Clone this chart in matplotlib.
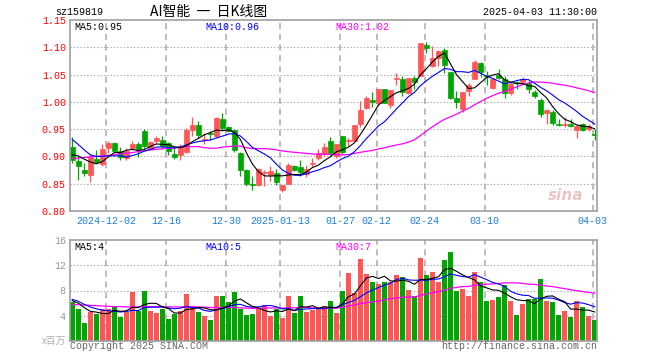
import numpy as np
import pandas as pd
import matplotlib
matplotlib.use('Agg')
import matplotlib.pyplot as plt

# ---- daily candles, 2024-11-22 .. 2025-04-03 (88 trading days) ----
opens = [0.917, 0.891, 0.876, 0.866, 0.896, 0.887, 0.916, 0.924, 0.910, 0.898,
         0.916, 0.922, 0.946, 0.914, 0.928, 0.931, 0.925, 0.905, 0.902, 0.908,
         0.948, 0.957, 0.930, 0.943, 0.938, 0.969, 0.954, 0.949, 0.907, 0.876,
         0.850, 0.847, 0.870, 0.866, 0.869, 0.838, 0.850, 0.882, 0.881, 0.867,
         0.886, 0.897, 0.904, 0.929, 0.900, 0.937, 0.928, 0.929, 0.959, 0.989,
         1.004, 0.997, 1.023, 0.995, 1.041, 1.041, 1.017, 1.044, 1.047, 1.105,
         1.065, 1.081, 1.095, 1.054, 1.007, 0.986, 1.020, 1.042, 1.072, 1.049,
         1.025, 1.050, 1.041, 1.017, 1.036, 1.036, 1.034, 1.018, 1.004, 0.979,
         0.981, 0.960, 0.957, 0.960, 0.949, 0.960, 0.951, 0.941]
highs = [0.936, 0.900, 0.888, 0.905, 0.911, 0.922, 0.929, 0.926, 0.918, 0.916,
         0.929, 0.927, 0.951, 0.929, 0.937, 0.937, 0.927, 0.916, 0.923, 0.952,
         0.972, 0.965, 0.943, 0.947, 0.973, 0.979, 0.956, 0.950, 0.908, 0.877,
         0.864, 0.878, 0.876, 0.883, 0.877, 0.847, 0.888, 0.885, 0.894, 0.885,
         0.897, 0.913, 0.925, 0.936, 0.922, 0.938, 0.934, 0.957, 1.001, 1.010,
         1.018, 1.023, 1.023, 1.021, 1.052, 1.047, 1.044, 1.047, 1.107, 1.109,
         1.102, 1.095, 1.099, 1.054, 1.020, 1.018, 1.035, 1.076, 1.073, 1.056,
         1.044, 1.061, 1.047, 1.038, 1.038, 1.046, 1.038, 1.021, 1.007, 0.987,
         0.985, 0.969, 0.973, 0.968, 0.960, 0.962, 0.960, 0.951]
lows = [0.888, 0.856, 0.865, 0.853, 0.888, 0.883, 0.907, 0.910, 0.893, 0.893,
        0.912, 0.899, 0.916, 0.912, 0.925, 0.916, 0.902, 0.896, 0.893, 0.906,
        0.938, 0.934, 0.922, 0.931, 0.934, 0.949, 0.945, 0.908, 0.864, 0.846,
        0.838, 0.846, 0.846, 0.855, 0.847, 0.834, 0.849, 0.873, 0.864, 0.862,
        0.881, 0.894, 0.900, 0.902, 0.898, 0.905, 0.919, 0.929, 0.954, 0.987,
        0.991, 0.993, 0.997, 0.989, 1.030, 1.010, 1.015, 1.024, 1.047, 1.090,
        1.064, 1.065, 1.052, 1.006, 0.989, 0.982, 1.010, 1.041, 1.046, 1.030,
        1.024, 1.041, 1.007, 1.013, 1.024, 1.032, 1.017, 1.007, 0.973, 0.960,
        0.957, 0.955, 0.954, 0.954, 0.934, 0.946, 0.946, 0.931]
closes = [0.893, 0.882, 0.869, 0.899, 0.889, 0.913, 0.924, 0.910, 0.899, 0.910,
          0.922, 0.913, 0.919, 0.927, 0.933, 0.919, 0.910, 0.899, 0.920, 0.949,
          0.957, 0.940, 0.932, 0.941, 0.971, 0.952, 0.947, 0.911, 0.875, 0.850,
          0.848, 0.877, 0.872, 0.873, 0.853, 0.847, 0.885, 0.876, 0.872, 0.877,
          0.888, 0.907, 0.918, 0.907, 0.922, 0.908, 0.930, 0.957, 0.985, 1.007,
          1.000, 1.023, 0.997, 1.021, 1.043, 1.018, 1.044, 1.036, 1.107, 1.099,
          1.081, 1.093, 1.068, 1.007, 1.000, 1.018, 1.030, 1.073, 1.054, 1.047,
          1.041, 1.043, 1.017, 1.032, 1.034, 1.041, 1.024, 1.010, 0.977, 0.985,
          0.962, 0.958, 0.959, 0.955, 0.955, 0.949, 0.955, 0.939]
# volume, millions
volumes = [6.1, 5.1, 2.9, 4.6, 4.2, 5.0, 5.0, 5.5, 3.8, 4.6,
           7.8, 4.8, 7.9, 4.8, 4.5, 5.1, 3.5, 4.3, 4.7, 7.4,
           5.5, 4.6, 4.0, 3.3, 7.1, 7.1, 6.2, 7.8, 5.1, 4.1,
           4.2, 5.1, 5.7, 3.9, 5.0, 3.7, 7.05, 4.4, 7.05, 4.6,
           4.9, 5.0, 5.5, 6.4, 4.5, 8.0, 10.7, 7.6, 13.0, 10.6,
           9.3, 9.0, 9.4, 9.3, 10.4, 10.1, 8.05, 7.1, 13.1, 10.4,
           11.0, 9.3, 12.8, 14.1, 8.0, 8.2, 7.2, 11.0, 9.3, 6.4,
           6.56, 6.9, 8.8, 6.4, 4.05, 5.9, 6.7, 6.6, 9.8, 6.4,
           6.2, 4.05, 4.8, 3.84, 6.4, 5.4, 4.0, 3.36]

# moving average values before enough history is in view
ma5_head = [0.903, 0.901, 0.895, 0.890]
ma10_head = [0.931, 0.922, 0.912, 0.903, 0.900, 0.900, 0.901, 0.901, 0.901]
ma30_head = [0.896, 0.897, 0.898, 0.899, 0.900, 0.901, 0.902, 0.903, 0.905, 0.906,
             0.907, 0.909, 0.910, 0.912, 0.913, 0.914, 0.915, 0.916, 0.917, 0.918,
             0.918, 0.918, 0.916, 0.915, 0.915, 0.917, 0.918, 0.919, 0.919]
vma5_head = [6.4, 6.0, 5.3, 4.7]
vma10_head = [6.6, 6.3, 5.8, 5.4, 5.1, 4.9, 4.8, 4.7, 4.6]
vma30_head = [5.8, 5.75, 5.7, 5.65, 5.6, 5.55, 5.5, 5.45, 5.45, 5.4,
              5.4, 5.4, 5.45, 5.45, 5.45, 5.45, 5.4, 5.4, 5.4, 5.4,
              5.4, 5.4, 5.35, 5.3, 5.3, 5.3, 5.3, 5.3, 5.25]

tick_idx = [6, 16, 26, 35, 45, 51, 59, 69, 87]
tick_labels = ['2024-12-02', '12-16', '12-30', '2025-01-13', '01-27', '02-12',
               '02-24', '03-10', '04-03']
price_ticks = [0.80, 0.85, 0.90, 0.95, 1.00, 1.05, 1.10, 1.15]
vol_ticks = [4, 8, 12, 16]

RED = '#ff5555'
GREEN = '#00a600'
FRAME = '#a0a0a0'
GRID = '#aaaaaa'
MONO = 'Liberation Mono'
CJK = ['Noto Sans CJK SC', 'DejaVu Sans']
FS = 7.2

W, H = 660, 360


def fx(px):
    return px / W


def fy(py):
    return 1 - py / H


def ma(values, n, head):
    s = pd.Series(values).rolling(n).mean().to_numpy()
    s[:n - 1] = head
    return s


o = np.array(opens); h = np.array(highs); l = np.array(lows); c = np.array(closes)
v = np.array(volumes)
x = np.arange(len(c))
col = np.where(c >= o, RED, GREEN)

ma5 = ma(c, 5, ma5_head)
ma10 = ma(c, 10, ma10_head)
ma30 = ma(c, 30, ma30_head)
vma5 = ma(v, 5, vma5_head)
vma10 = ma(v, 10, vma10_head)
vma30 = ma(v, 30, vma30_head)

fig = plt.figure(figsize=(6.6, 3.6), dpi=100)
ax = fig.add_axes([fx(70), fy(211), fx(527), (211 - 20) / H])
axv = fig.add_axes([fx(70), fy(341), fx(527), (341 - 240) / H])

for a in (ax, axv):
    a.set_xlim(-0.37, len(c) - 0.6)
    a.set_xticks([])
    for sp in a.spines.values():
        sp.set_color(FRAME)
        sp.set_linewidth(1.2)
    for t in tick_idx:
        a.axvline(t - 0.32, color=GRID, lw=1.1, ls=(0, (4, 3)), zorder=0)
    a.tick_params(axis='y', length=0, pad=3)

# price panel
ax.set_ylim(0.80, 1.15)
ax.set_yticks(price_ticks)
ax.set_yticklabels(['%.2f' % p for p in price_ticks], color='#ff0000',
                   family=MONO, fontsize=FS)
for p in price_ticks[1:-1]:
    ax.axhline(p, color=GRID, lw=0.8, ls=(0, (1.2, 1.8)), zorder=0)

ax.vlines(x, l, h, colors=col, lw=0.9, zorder=2)
ax.bar(x, np.abs(c - o), 0.78, bottom=np.minimum(o, c), color=col,
       edgecolor=col, linewidth=0.5, zorder=2)
ax.plot(x, ma30, color='#ff00ff', lw=0.9, zorder=3)
ax.plot(x, ma10, color='#0000ff', lw=0.8, zorder=3)
ax.plot(x, ma5, color='black', lw=0.8, zorder=3)

for t, lab in zip(tick_idx, tick_labels):
    ax.text(t - 0.32, -0.052, lab, transform=ax.get_xaxis_transform(),
            ha='center', va='center', color='#1f7fd8', family=MONO, fontsize=FS)

ax.text(0.975, 0.08, 'sina', transform=ax.transAxes, ha='right', va='center',
        color='#e9c6c6', fontsize=11, fontweight='bold', style='italic', zorder=1)

# volume panel
axv.set_ylim(0, 16)
axv.set_yticks(vol_ticks)
axv.set_yticklabels([str(t) for t in vol_ticks], color='#999999',
                    family=MONO, fontsize=FS)
for t in vol_ticks[:-1]:
    axv.axhline(t, color=GRID, lw=0.8, ls=(0, (1.2, 1.8)), zorder=0)
axv.bar(x, v, 0.83, color=col, zorder=2)
axv.plot(x, vma30, color='#ff00ff', lw=0.9, zorder=3)
axv.plot(x, vma10, color='#0000ff', lw=0.8, zorder=3)
axv.plot(x, vma5, color='black', lw=0.8, zorder=3)

# texts
fig.text(fx(55), fy(12), 'sz159819', family=MONO, fontsize=FS, va='center')
fig.text(fx(150), fy(12), 'AI智能  一  日K线图', family=CJK, fontsize=10,
         va='center')
fig.text(fx(597), fy(12), '2025-04-03 11:30:00', family=MONO, fontsize=FS,
         va='center', ha='right')

fig.text(fx(74), fy(27), 'MA5:%.2f' % ma5[-1], family=MONO, fontsize=FS,
         va='center', color='black')
fig.text(fx(205), fy(27), 'MA10:%.2f' % ma10[-1], family=MONO, fontsize=FS,
         va='center', color='#0000ff')
fig.text(fx(335), fy(27), 'MA30:%.2f' % ma30[-1], family=MONO, fontsize=FS,
         va='center', color='#ff00ff')

fig.text(fx(74), fy(247), 'MA5:%d' % int(vma5[-1]), family=MONO, fontsize=FS,
         va='center', color='black')
fig.text(fx(205), fy(247), 'MA10:%d' % int(vma10[-1]), family=MONO, fontsize=FS,
         va='center', color='#0000ff')
fig.text(fx(335), fy(247), 'MA30:%d' % int(vma30[-1]), family=MONO, fontsize=FS,
         va='center', color='#ff00ff')

fig.text(fx(66), fy(341), 'x百万', family=CJK, fontsize=7, va='center',
         ha='right', color='#b0b0b0')
fig.text(fx(70), fy(346), 'Copyright 2025 SINA.COM', family=MONO, fontsize=FS,
         va='center', color='#666666')
fig.text(fx(597), fy(346), 'http://finance.sina.com.cn', family=MONO,
         fontsize=FS, va='center', ha='right', color='#666666')

fig.savefig('out.png', dpi=100)
